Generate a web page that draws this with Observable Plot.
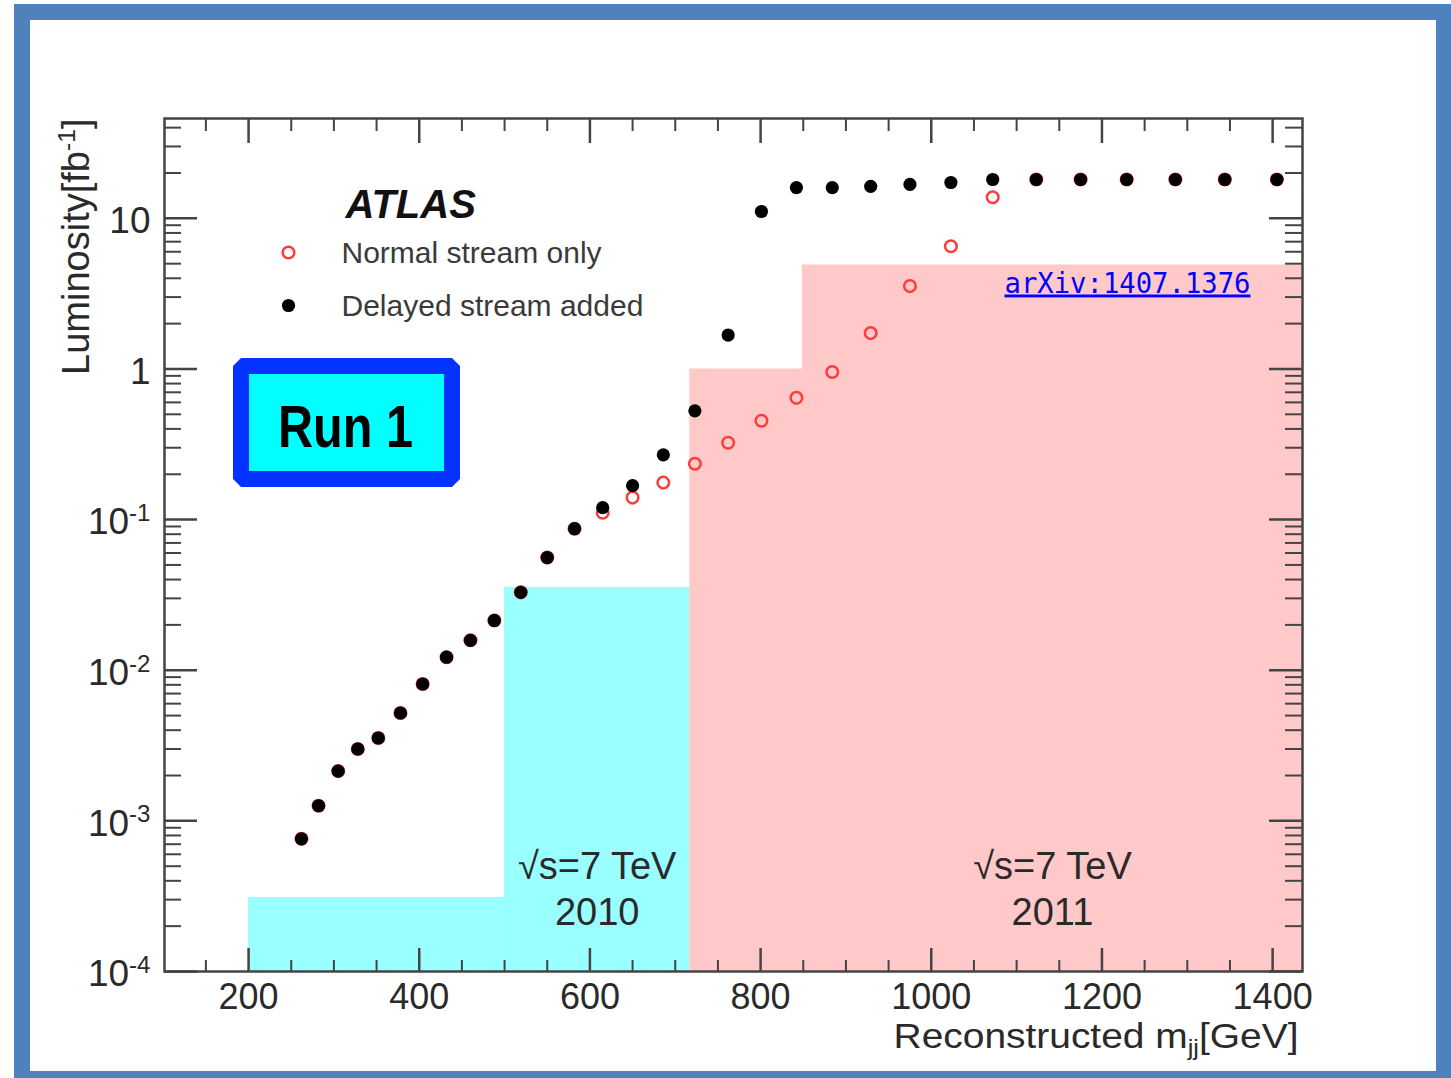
<!DOCTYPE html>
<html>
<head>
<meta charset="utf-8">
<script src="https://cdn.jsdelivr.net/npm/d3@7"></script>
<script src="https://cdn.jsdelivr.net/npm/@observablehq/plot@0.6"></script>
<style>
html, body { margin: 0; padding: 0; background: #fff; }
#wrap { position: relative; width: 1451px; height: 1078px; overflow: hidden; background: #fff; }
#wrap svg { position: absolute; left: 0; top: 0; }
#border { position: absolute; left: 14px; top: 4px; width: 1437px; height: 1074px; box-sizing: border-box;
  border-style: solid; border-color: #4f81bd; border-width: 16px 15px 7px 16px; pointer-events: none; z-index: 2; }
</style>
</head>
<body>
<div id="wrap"><div id="border"></div></div>
<script>
// ---- data ----
const massBins = [262, 282, 305, 328, 352, 378, 404, 432, 460, 488, 519, 550, 582, 615, 650, 686, 723, 762, 801, 842, 884, 929, 975, 1023, 1072, 1123, 1175, 1229, 1286, 1344, 1405];
const delayedLumi = [7.6e-4, 1.26e-3, 2.14e-3, 3.0e-3, 3.55e-3, 5.2e-3, 8.1e-3, 0.0122, 0.0158, 0.0214, 0.0329, 0.056, 0.087, 0.12, 0.168, 0.269, 0.527, 1.68, 11.1, 16.0, 16.0, 16.3, 16.8, 17.3, 18.1, 18.1, 18.1, 18.1, 18.1, 18.1, 18.1];
const normalLumi  = [7.6e-4, 1.26e-3, 2.14e-3, 3.0e-3, 3.55e-3, 5.2e-3, 8.1e-3, 0.0122, 0.0158, 0.0214, 0.0329, 0.056, 0.087, 0.111, 0.140, 0.176, 0.235, 0.324, 0.453, 0.643, 0.955, 1.73, 3.55, 6.53, 13.8, 18.1, 18.1, 18.1, 18.1, 18.1, 18.1];

const bandStart = [200, 500, 717, 849];
const bandEnd   = [500, 717, 849, 1435];
const bandLumi  = [3.1e-4, 0.0355, 1.0, 4.9];
const bandPeriod = ["2010", "2010", "2011", "2011"];

const periodBands = [1, 3];
const periodYears = ["2010", "2011"];
const energyLabel = "√s=7 TeV";

const xMajorTicks = [200, 400, 600, 800, 1000, 1200, 1400];
const xMinorTicks = [150, 250, 300, 350, 450, 500, 550, 650, 700, 750, 850, 900, 950, 1050, 1100, 1150, 1250, 1300, 1350];
const yMajorTicks = [1e-4, 1e-3, 1e-2, 1e-1, 1, 10];
const yTickLabels = ["10^{-4}", "10^{-3}", "10^{-2}", "10^{-1}", "1", "10"];
const yMinorTicks = yMajorTicks.flatMap(d => [2,3,4,5,6,7,8,9].map(k => k * d)).filter(v => v < 46);

const legendLabels = ["Normal stream only", "Delayed stream added"];
const experiment = "ATLAS";
const reference = "arXiv:1407.1376";
const xTitle = "Reconstructed m_{jj}[GeV]";
const yTitle = "Luminosity[fb^{-1}]";
const runLabel = "Run 1";

// ---- tables ----
const points = massBins.map((m, i) => ({mass: m, delayed: delayedLumi[i], normal: normalLumi[i]}));
const bands = bandStart.map((s, i) => ({x1: s, x2: bandEnd[i], top: bandLumi[i], period: bandPeriod[i]}));
const periodText = periodBands.map((b, i) => ({mid: (bandStart[b] + bandEnd[b]) / 2, year: periodYears[i]}));

const W = 1451, H = 1078;
const mL = 164, mR = 149, mT = 118, mB = 107;
const PW = W - mL - mR, PH = H - mT - mB;
const axisColor = "#444";
const textColor = "#2a2a2a";

const svg = Plot.plot({
  width: W, height: H,
  marginLeft: mL, marginRight: mR, marginTop: mT, marginBottom: mB,
  style: {fontFamily: "'Liberation Sans', Arial, Helvetica, sans-serif", fontSize: "37px", color: textColor, background: "transparent", overflow: "visible"},
  x: {type: "linear", domain: [101.5, 1435], label: null},
  y: {type: "log", domain: [1e-4, 46], label: null},
  marks: [
    Plot.rect(bands.filter(d => d.period === "2010"), {x1: "x1", x2: "x2", y1: 1e-4, y2: "top", fill: "#99ffff"}),
    Plot.rect(bands.filter(d => d.period === "2011"), {x1: "x1", x2: "x2", y1: 1e-4, y2: "top", fill: "#ffc9c9"}),
    // ticks (inside the frame, ROOT style)
    Plot.tickX(xMajorTicks, {x: d => d, insetTop: PH - 23, stroke: axisColor, strokeWidth: 2.5}),
    Plot.tickX(xMinorTicks, {x: d => d, insetTop: PH - 11, stroke: axisColor, strokeWidth: 2}),
    Plot.tickX(xMajorTicks, {x: d => d, insetBottom: PH - 25, stroke: axisColor, strokeWidth: 2.5}),
    Plot.tickX(xMinorTicks, {x: d => d, insetBottom: PH - 13, stroke: axisColor, strokeWidth: 2}),
    Plot.tickY(yMajorTicks, {y: d => d, insetRight: PW - 33, stroke: axisColor, strokeWidth: 2.5}),
    Plot.tickY(yMinorTicks, {y: d => d, insetRight: PW - 17, stroke: axisColor, strokeWidth: 2}),
    Plot.tickY(yMajorTicks, {y: d => d, insetLeft: PW - 33, stroke: axisColor, strokeWidth: 2.5}),
    Plot.tickY(yMinorTicks, {y: d => d, insetLeft: PW - 17, stroke: axisColor, strokeWidth: 2}),
    Plot.frame({stroke: axisColor, strokeWidth: 2.5}),
    Plot.axisX({ticks: xMajorTicks, tickSize: 0, tickPadding: 12, tickFormat: d => String(d), fontSize: 36, anchor: "bottom"}),
    Plot.axisY({ticks: yMajorTicks, tickSize: 0, tickPadding: 14, tickFormat: d => yTickLabels[yMajorTicks.indexOf(d)], fontSize: 37, anchor: "left", dy: 3}),
    // data
    Plot.dot(points, {x: "mass", y: "normal", r: 5.8, stroke: "#ff3b3b", strokeWidth: 2.5, fill: "none"}),
    Plot.dot(points, {x: "mass", y: "delayed", r: 6.6, fill: "#000"}),
    // period labels
    Plot.text(periodText, {x: "mid", frameAnchor: "bottom", dy: -93, text: () => energyLabel, lineAnchor: "bottom", fontSize: 38, fill: textColor}),
    Plot.text(periodText, {x: "mid", frameAnchor: "bottom", dy: -47, text: "year", lineAnchor: "bottom", fontSize: 38, fill: textColor}),
    // legend
    Plot.text([experiment], {frameAnchor: "top-left", dx: 181, dy: 71, text: d => d, textAnchor: "start", fontSize: 40, fontWeight: "bold", fontStyle: "italic", fill: "#111"}),
    Plot.dot([0], {frameAnchor: "top-left", dx: 124, dy: 134, r: 5.8, stroke: "#ff3b3b", strokeWidth: 2.5, fill: "none"}),
    Plot.dot([0], {frameAnchor: "top-left", dx: 124, dy: 187, r: 6.6, fill: "#000"}),
    Plot.text([legendLabels[0]], {frameAnchor: "top-left", dx: 177, dy: 123, text: d => d, textAnchor: "start", fontSize: 30, fill: "#3a3a3a"}),
    Plot.text([legendLabels[1]], {frameAnchor: "top-left", dx: 177, dy: 176, text: d => d, textAnchor: "start", fontSize: 30, fill: "#3a3a3a"}),
    // reference
    Plot.text([reference], {frameAnchor: "top-left", dx: 840, dy: 174, text: d => d, textAnchor: "start", lineAnchor: "bottom", fontFamily: "'DejaVu Sans Mono', monospace", fontSize: 29, fill: "#0000ff"}),
    // axis titles
    Plot.text([xTitle], {frameAnchor: "bottom-right", dx: -4, dy: 76, text: d => d, textAnchor: "end", lineAnchor: "bottom", fontSize: 35, fill: textColor}),
    Plot.text([yTitle], {frameAnchor: "top-left", dx: -76, dy: 0, rotate: -90, text: d => d, textAnchor: "end", lineAnchor: "bottom", fontSize: 38, fill: textColor})
  ]
});

document.getElementById("wrap").insertBefore(svg, document.getElementById("border"));

// rich text: ^{...} superscript, _{...} subscript
const SVGNS = "http://www.w3.org/2000/svg";
function richText(el, fs) {
  const s = el.textContent;
  const re = /([\^_])\{([^}]*)\}/g;
  const segs = []; let last = 0, m;
  while ((m = re.exec(s))) {
    if (m.index > last) segs.push({t: s.slice(last, m.index), off: 0});
    segs.push({t: m[2], off: m[1] === "^" ? -0.36 * fs : 0.22 * fs});
    last = re.lastIndex;
  }
  if (last < s.length) segs.push({t: s.slice(last), off: 0});
  while (el.firstChild) el.removeChild(el.firstChild);
  let cur = 0;
  for (const g of segs) {
    const ts = document.createElementNS(SVGNS, "tspan");
    ts.textContent = g.t;
    if (g.off !== cur) ts.setAttribute("dy", (g.off - cur).toFixed(1));
    if (g.off !== 0) ts.setAttribute("font-size", (fs * 0.65).toFixed(1));
    cur = g.off;
    el.appendChild(ts);
  }
}
d3.select(svg).selectAll("text").each(function () {
  const t = this.textContent;
  if (t === xTitle) {
    richText(this, 35);
    this.setAttribute("textLength", 405);
    this.setAttribute("lengthAdjust", "spacingAndGlyphs");
  } else if (t === yTitle) {
    richText(this, 38);
  } else if (/[\^_]\{/.test(t)) {
    richText(this, 37);
  }
  if (t === reference) {
    this.setAttribute("textLength", 246);
    this.setAttribute("lengthAdjust", "spacingAndGlyphs");
    this.style.textDecoration = "underline";
  }
});

// "Run 1" badge
const badge = d3.select(svg).append("g");
const bx0 = 233, by0 = 358, bx1 = 460, by1 = 487, c = 8;
badge.append("polygon")
  .attr("points", [[bx0 + c, by0], [bx1 - c, by0], [bx1, by0 + c], [bx1, by1 - c], [bx1 - c, by1], [bx0 + c, by1], [bx0, by1 - c], [bx0, by0 + c]].map(p => p.join(",")).join(" "))
  .attr("fill", "#0433ff");
badge.append("rect").attr("x", 249).attr("y", 374).attr("width", 195).attr("height", 97).attr("fill", "#00ffff");
badge.append("text").attr("x", 345.5).attr("y", 447).attr("text-anchor", "middle")
  .attr("font-family", "'Liberation Sans Narrow', 'Liberation Sans', Arial, sans-serif")
  .attr("font-weight", "bold").attr("font-size", 60).attr("fill", "#000")
  .attr("textLength", 135).attr("lengthAdjust", "spacingAndGlyphs")
  .text(runLabel);
</script>
</body>
</html>
